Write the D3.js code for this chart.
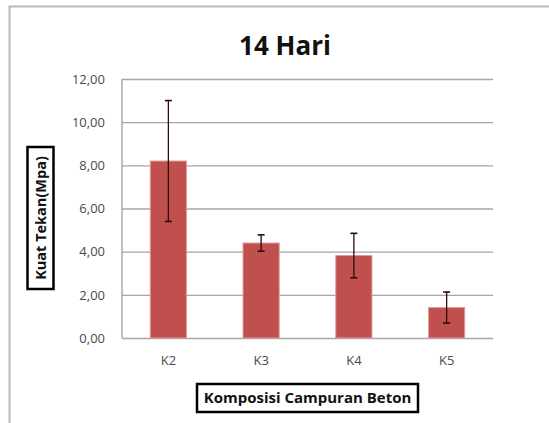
<!DOCTYPE html>
<html><head><meta charset="utf-8">
<script src="https://cdn.jsdelivr.net/npm/d3@7"></script>
<style>body{margin:0;background:#fff;}svg{display:block;}</style>
</head><body>
<script>
const categories = ["K2", "K3", "K4", "K5"];
const values = [8.2, 4.4, 3.82, 1.41];
const errors = [2.8, 0.38, 1.03, 0.72];
const yTicks = [0, 2, 4, 6, 8, 10, 12];
const title = "14 Hari";
const yTitle = "Kuat Tekan(Mpa)";
const xTitle = "Komposisi Campuran Beton";

(function () {
const W = 549, H = 423;
const svg = d3.select("body").append("svg").attr("width", W).attr("height", H);
const font = "'Open Sans', 'Liberation Sans', sans-serif";

// outer frame
svg.append("path").attr("d", `M9.5,${H} V6.5 H${W}`).attr("fill", "none").attr("stroke", "#b8b8b8").attr("stroke-width", 2);

const pL = 122, pR = 493, pT = 79, pB = 338;
const x = d3.scaleBand().domain(categories).range([pL, pR]).paddingInner(0.61).paddingOuter(0.305);
const y = d3.scaleLinear().domain([0, 12]).range([pB, pT]);

// gridlines
const yAxis = d3.axisLeft(y).tickValues(yTicks).tickSize(-(pR - pL))
  .tickFormat(d => d3.format(".2f")(d).replace(".", ","));
const gy = svg.append("g").attr("transform", `translate(${pL},0)`).call(yAxis);
gy.select(".domain").remove();
gy.selectAll(".tick line").attr("stroke", "#a6a6a6").attr("stroke-width", 1.4);
gy.selectAll(".tick text").attr("x", -17).attr("font-family", font).attr("font-size", 13).attr("fill", "#4a4a4a");
svg.append("line").attr("x1", pL).attr("x2", pL).attr("y1", pT).attr("y2", pB).attr("stroke", "#a6a6a6").attr("stroke-width", 1.4);

// bars
svg.selectAll("rect.bar").data(categories).enter().append("rect")
  .attr("class", "bar")
  .attr("x", d => x(d)).attr("width", x.bandwidth())
  .attr("y", (d, i) => y(values[i])).attr("height", (d, i) => pB - y(values[i]))
  .attr("fill", "#c0504d").attr("stroke", "#e29a98").attr("stroke-width", 1);

// error bars
const eg = svg.selectAll("g.err").data(categories).enter().append("g").attr("class", "err");
eg.append("line").attr("x1", d => x(d) + x.bandwidth() / 2).attr("x2", d => x(d) + x.bandwidth() / 2)
  .attr("y1", (d, i) => y(values[i] + errors[i])).attr("y2", (d, i) => y(values[i] - errors[i]))
  .attr("stroke", "#2a0a0a").attr("stroke-width", 1.3);
[1, -1].forEach(s => {
  eg.append("line").attr("x1", d => x(d) + x.bandwidth() / 2 - 3.5).attr("x2", d => x(d) + x.bandwidth() / 2 + 3.5)
    .attr("y1", (d, i) => y(values[i] + s * errors[i])).attr("y2", (d, i) => y(values[i] + s * errors[i]))
    .attr("stroke", "#2a0a0a").attr("stroke-width", 1.6);
});

// x axis labels
const xAxis = d3.axisBottom(x).tickSize(0);
const gx = svg.append("g").attr("transform", `translate(0,${pB})`).call(xAxis);
gx.select(".domain").remove();
gx.selectAll(".tick text").attr("dy", 0).attr("y", 27).attr("font-family", font).attr("font-size", 13).attr("fill", "#4a4a4a");

// title
svg.append("text").attr("x", 285).attr("y", 55).attr("text-anchor", "middle")
  .attr("font-family", font).attr("font-weight", "bold").attr("font-size", 26).attr("fill", "#111").text(title);

// y title box
const yt = svg.append("g").attr("transform", "translate(40.5,218) rotate(-90)");
yt.append("rect").attr("x", -71).attr("y", -13).attr("width", 142).attr("height", 26).attr("fill", "#fff").attr("stroke", "#000").attr("stroke-width", 2.5);
yt.append("text").attr("text-anchor", "middle").attr("dy", "0.36em").attr("font-family", font).attr("font-weight", "bold").attr("font-size", 14.5).attr("fill", "#111").text(yTitle);

// x title box
const xt = svg.append("g").attr("transform", "translate(307.5,398)");
xt.append("rect").attr("x", -110.5).attr("y", -14).attr("width", 221).attr("height", 28).attr("fill", "#fff").attr("stroke", "#000").attr("stroke-width", 2.5);
xt.append("text").attr("text-anchor", "middle").attr("dy", "0.36em").attr("font-family", font).attr("font-weight", "bold").attr("font-size", 15).attr("fill", "#111").text(xTitle);
})();
</script>
</body></html>
